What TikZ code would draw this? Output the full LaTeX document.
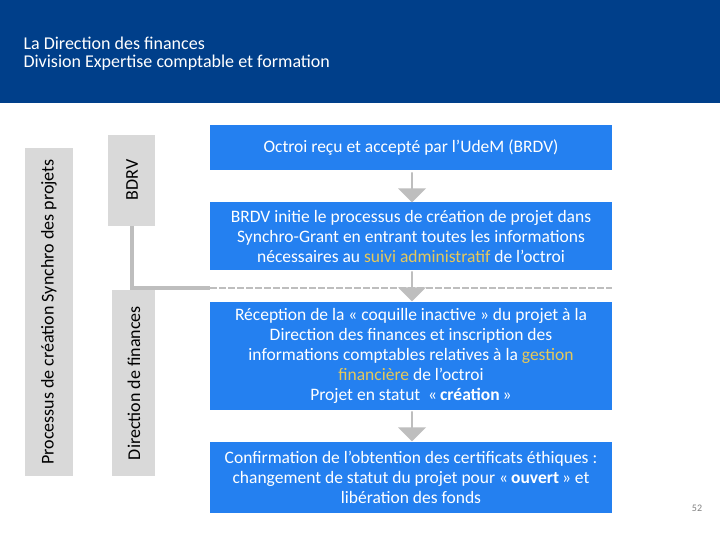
\documentclass[tikz,border=0pt]{standalone}
\usepackage{fontspec}
\setmainfont{Carlito}
\usetikzlibrary{shapes.arrows}
\definecolor{hdr}{RGB}{0,63,138}
\definecolor{bx}{RGB}{36,128,240}
\definecolor{gl}{RGB}{217,217,217}
\definecolor{gd}{RGB}{190,190,190}
\definecolor{gold}{RGB}{230,200,90}
\begin{document}
\begin{tikzpicture}[x=1pt,y=-1pt,
  bluebox/.style={fill=bx,draw=none,text=white,align=center,font=\fontsize{17.5}{20}\selectfont,inner sep=0pt},
  sidetxt/.style={rotate=90,font=\fontsize{18}{20}\selectfont},
  downarr/.style={fill=gd,draw=none,single arrow,shape border rotate=270,single arrow head extend=3pt,minimum height=30pt,minimum width=28pt,inner sep=0pt,single arrow tip angle=90}]
\useasboundingbox (0,0) rectangle (720,540);
\fill[white] (0,0) rectangle (720,540);
\fill[hdr] (0,0) rectangle (720,103);
\node[anchor=west,text=white,font=\fontsize{18}{20}\selectfont] (t1) at (20,43) {La Direction des finances};
\node[anchor=west,text=white,font=\fontsize{18}{20}\selectfont] (t2) at (20,63) {Division Expertise comptable et formation};
% left bars
\fill[gl] (25,148) rectangle (73,476);
\node[sidetxt] (proc) at (49,312) {Processus de création Synchro des projets};
\fill[gl] (108,135) rectangle (155,226);
\node[sidetxt] (bdrv) at (132,180) {BDRV};
\fill[gl] (112,290) rectangle (155,476);
\node[sidetxt] (dirf) at (134,383) {Direction de finances};
\coordinate (c1) at (132,226);
\coordinate (c2) at (132,290);
\coordinate (c3) at (132,288);
\coordinate (c4) at (210,288);
\coordinate (c5) at (612,288);
\draw[gd,line width=4pt] (c1) -- (c2);
\draw[gd,line width=4pt] (c3) -- (c4);
\draw[gd,line width=2.5pt,dash pattern=on 7pt off 2pt] (c4) -- (c5);
% boxes
\node[bluebox,minimum width=402pt,minimum height=45pt] (b1) at (411,148) {Octroi reçu et accepté par l’UdeM (BRDV)};
\node[bluebox,minimum width=402pt,minimum height=68pt] (b2) at (411,236) {BRDV initie le processus de création de projet dans\\Synchro-Grant en entrant toutes les informations\\nécessaires au \textcolor{gold}{suivi administratif} de l’octroi};
\node[bluebox,minimum width=402pt,minimum height=108pt] (b3) at (411,356) {Réception de la « coquille inactive » du projet à la\\Direction des finances et inscription des\\informations comptables relatives à la \textcolor{gold}{gestion}\\\textcolor{gold}{financière} de l’octroi\\Projet en statut \ «\,\textbf{création}\,»};
\node[bluebox,minimum width=402pt,minimum height=71pt] (b4) at (411,477) {Confirmation de l’obtention des certificats éthiques :\\changement de statut du projet pour «\,\textbf{ouvert}\,» et\\libération des fonds};
\node[downarr] (a1) at (412,187) {};
\node[downarr] (a2) at (412,286) {};
\node[downarr] (a3) at (412,426) {};
\node[text=gray,font=\fontsize{10}{11}\selectfont] (pg) at (697,508) {52};
\end{tikzpicture}
\end{document}
